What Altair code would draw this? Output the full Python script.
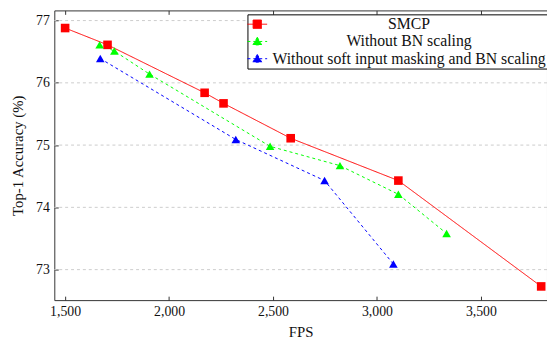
import altair as alt
import pandas as pd

series_names = ["SMCP", "Without BN scaling", "Without soft input masking and BN scaling"]

smcp_fps = [1500, 1704, 2171, 2262, 2585, 3103, 3790]
smcp_acc = [76.88, 76.61, 75.84, 75.67, 75.11, 74.43, 72.73]

bn_fps = [1666, 1737, 1906, 2486, 2822, 3103, 3335]
bn_acc = [76.61, 76.51, 76.14, 74.98, 74.67, 74.21, 73.58]

full_fps = [1669, 2321, 2748, 3079]
full_acc = [76.39, 75.09, 74.43, 73.09]

x_ticks = [1500, 2000, 2500, 3000, 3500]
y_ticks = [73, 74, 75, 76, 77]

colors = ["#ff0000", "#00ff00", "#0000ff"]
dashes = [[1, 0], [3, 3], [3, 3]]
marks = ["square", "triangle-up", "triangle-up"]
legend_paths = [
    "M-2,0H2M-0.85,-0.85H0.85V0.85H-0.85Z",
    "M-2,0H2M0,-0.85L0.9,0.7L-0.9,0.7Z",
    "M-2,0H2M0,-0.85L0.9,0.7L-0.9,0.7Z",
]

rows = []
for name, xs, ys in zip(series_names, [smcp_fps, bn_fps, full_fps], [smcp_acc, bn_acc, full_acc]):
    for i, (a, b) in enumerate(zip(xs, ys)):
        rows.append({"series": name, "fps": a, "acc": b, "order": i})
df = pd.DataFrame(rows)
grid_df = pd.DataFrame({"v": y_ticks})

FONT = "Liberation Serif"
xscale = alt.Scale(domain=[1448, 3818], nice=False, zero=False)
yscale = alt.Scale(domain=[72.51, 77.163], nice=False, zero=False)


def cscale():
    return alt.Scale(domain=series_names, range=colors)


def dscale():
    return alt.Scale(domain=series_names, range=dashes)


def y_enc(field):
    return alt.Y(field, scale=yscale, title="Top-1 Accuracy (%)",
                 axis=alt.Axis(values=y_ticks, labelExpr="format(datum.value, 'd')"))


x_bottom = alt.X("fps:Q", scale=xscale, title="FPS",
                 axis=alt.Axis(values=x_ticks, labelExpr="format(datum.value, ',')"))
x_top = alt.X("fps:Q", scale=xscale, title=None,
              axis=alt.Axis(orient="top", values=x_ticks, labels=False))
x_none = alt.X("fps:Q", scale=xscale, axis=None)

grid = alt.Chart(grid_df).mark_rule(color="#cccccc", strokeDash=[3, 3], strokeWidth=1).encode(
    y=y_enc("v:Q")
)

lines = alt.Chart(df).mark_line(strokeWidth=1).encode(
    x=x_bottom,
    y=y_enc("acc:Q"),
    color=alt.Color("series:N", scale=cscale(), legend=None),
    strokeDash=alt.StrokeDash("series:N", scale=dscale(), legend=None),
    order="order:Q",
)

points = alt.Chart(df).mark_point(filled=True, opacity=1, size=76).encode(
    x=x_top,
    y=y_enc("acc:Q"),
    color=alt.Color("series:N", scale=cscale(), legend=None),
    shape=alt.Shape("series:N", scale=alt.Scale(domain=series_names, range=marks), legend=None),
)

leg = alt.Legend(
    title=None, orient="none", legendX=196, legendY=4, direction="vertical",
    strokeColor="black", fillColor="white", padding=2, cornerRadius=0,
    labelFont=FONT, labelFontSize=16, labelColor="#111", labelAlign="center", labelOffset=146,
    labelLimit=400, symbolSize=100, symbolStrokeWidth=1, symbolOpacity=1, rowPadding=1.5,
)

legend_layer = alt.Chart(df).mark_point(filled=False, size=0, opacity=1).encode(
    x=x_none,
    y=y_enc("acc:Q"),
    color=alt.Color("series:N", scale=cscale(), legend=leg),
    fill=alt.Fill("series:N", scale=cscale(), legend=leg),
    strokeDash=alt.StrokeDash("series:N", scale=dscale(), legend=leg),
    shape=alt.Shape("series:N", scale=alt.Scale(domain=series_names, range=legend_paths), legend=leg),
)

chart = alt.layer(grid, lines, points, legend_layer).resolve_axis(
    x="independent"
).resolve_scale(
    color="independent", shape="independent", strokeDash="independent", fill="independent"
).properties(
    width=500, height=294,
    autosize=alt.AutoSizeParams(type="none"),
    padding={"left": 47, "top": 0, "right": 0, "bottom": 37},
).configure_view(
    stroke="#333", strokeWidth=1
).configure_axis(
    offset=-4, domain=False, grid=False, tickSize=4, tickColor="#333",
    labelPadding=5, labelFont=FONT, labelFontSize=14, labelColor="#111",
    titleFont=FONT, titleFontSize=15, titleFontWeight="normal", titleColor="#111",
).configure_axisX(titlePadding=6).configure_axisY(titlePadding=10)

chart.save("out.html", embed_options={"renderer": "svg", "actions": False})
